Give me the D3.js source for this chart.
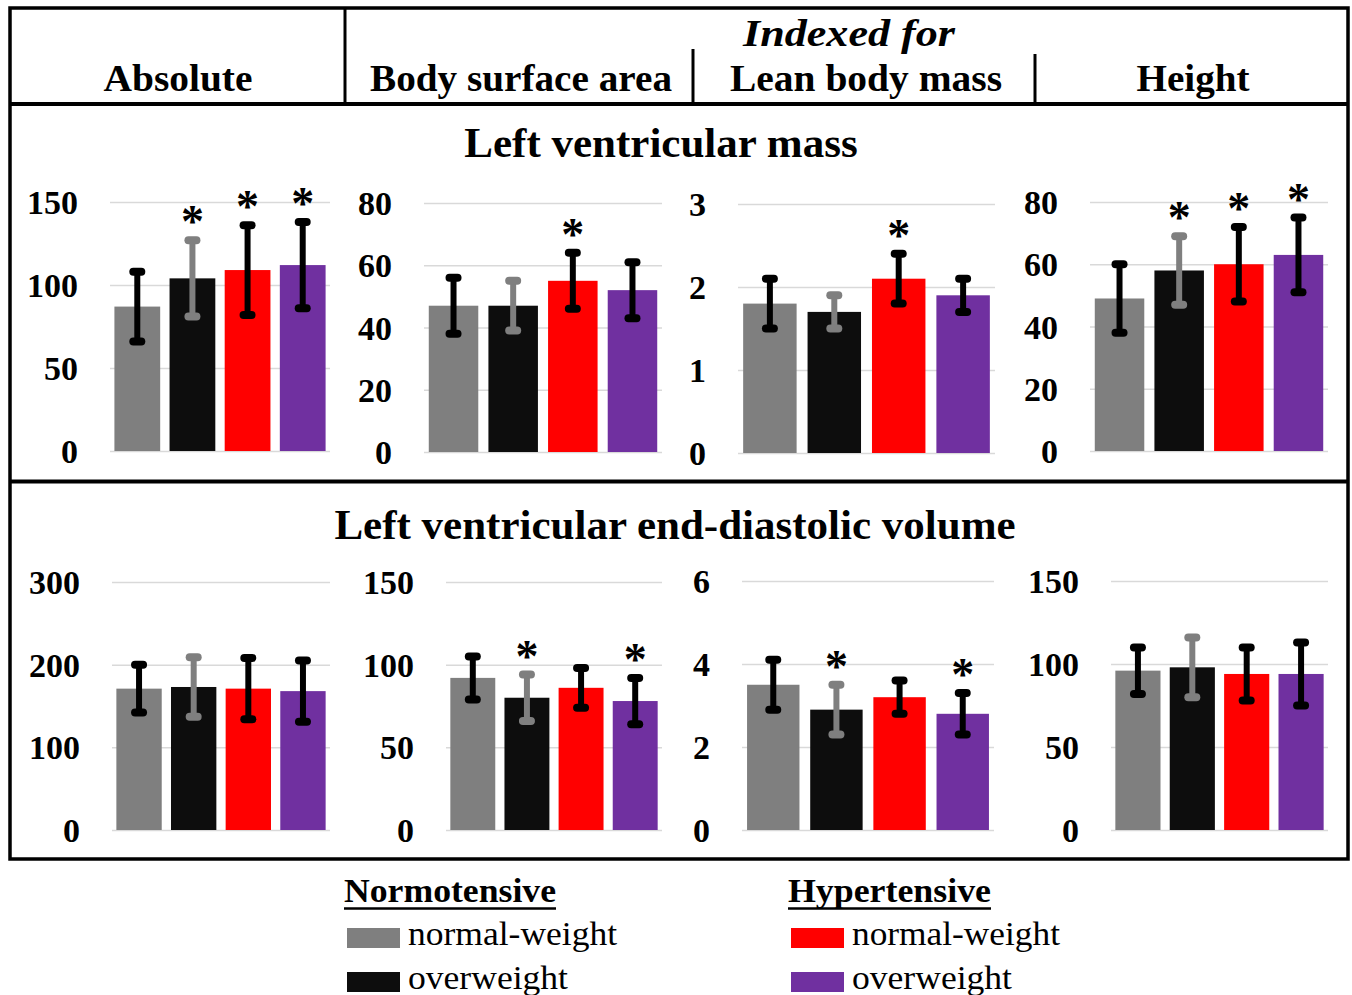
<!DOCTYPE html>
<html>
<head>
<meta charset="utf-8">
<script src="https://cdn.jsdelivr.net/npm/d3@7"></script>
<style>
  html, body { margin: 0; padding: 0; background: #fff; }
  svg { display: block; font-family: "Liberation Serif", "Times New Roman", serif; }
</style>
</head>
<body>
<svg id="chart" width="1352" height="995"></svg>
<script>
// ---------------- DATA ----------------
const groups = ["Normotensive normal-weight", "Normotensive overweight", "Hypertensive normal-weight", "Hypertensive overweight"];
const groupColors = ["#7f7f7f", "#0d0d0d", "#ff0000", "#7030a0"];
const errorColors = ["#000000", "#7f7f7f", "#000000", "#000000"];

const indexLabels = ["Absolute", "Body surface area", "Lean body mass", "Height"];
const rowTitles = ["Left ventricular mass", "Left ventricular end-diastolic volume"];

// Left ventricular mass
const lvmAbsMean = [87, 104, 109, 112];
const lvmAbsSD   = [21, 23, 27, 26];
const lvmAbsSig  = [false, true, true, true];
const lvmAbsTicks = [0, 50, 100, 150];

const lvmBsaMean = [47, 47, 55, 52];
const lvmBsaSD   = [9, 8, 9, 9];
const lvmBsaSig  = [false, false, true, false];
const lvmBsaTicks = [0, 20, 40, 60, 80];

const lvmLbmMean = [1.8, 1.7, 2.1, 1.9];
const lvmLbmSD   = [0.3, 0.2, 0.3, 0.2];
const lvmLbmSig  = [false, false, true, false];
const lvmLbmTicks = [0, 1, 2, 3];

const lvmHtMean = [49, 58, 60, 63];
const lvmHtSD   = [11, 11, 12, 12];
const lvmHtSig  = [false, true, true, true];
const lvmHtTicks = [0, 20, 40, 60, 80];

// Left ventricular end-diastolic volume
const edvAbsMean = [171, 173, 171, 168];
const edvAbsSD   = [29, 36, 37, 37];
const edvAbsSig  = [false, false, false, false];
const edvAbsTicks = [0, 100, 200, 300];

const edvBsaMean = [92, 80, 86, 78];
const edvBsaSD   = [13, 14, 12, 14];
const edvBsaSig  = [false, true, false, true];
const edvBsaTicks = [0, 50, 100, 150];

const edvLbmMean = [3.5, 2.9, 3.2, 2.8];
const edvLbmSD   = [0.6, 0.6, 0.4, 0.5];
const edvLbmSig  = [false, true, false, true];
const edvLbmTicks = [0, 2, 4, 6];

const edvHtMean = [96, 98, 94, 94];
const edvHtSD   = [14, 18, 16, 19];
const edvHtSig  = [false, false, false, false];
const edvHtTicks = [0, 50, 100, 150];

const legendHeaders = ["Normotensive", "Hypertensive"];
const legendItems = ["normal-weight", "overweight", "normal-weight", "overweight"];

// ---------------- LAYOUT ----------------
const panels = [
  { mean: lvmAbsMean, sd: lvmAbsSD, sig: lvmAbsSig, ticks: lvmAbsTicks, x: [110, 330], y: [451, 202] },
  { mean: lvmBsaMean, sd: lvmBsaSD, sig: lvmBsaSig, ticks: lvmBsaTicks, x: [424, 662], y: [452, 203] },
  { mean: lvmLbmMean, sd: lvmLbmSD, sig: lvmLbmSig, ticks: lvmLbmTicks, x: [738, 995], y: [453, 204] },
  { mean: lvmHtMean,  sd: lvmHtSD,  sig: lvmHtSig,  ticks: lvmHtTicks,  x: [1090, 1328], y: [451, 202] },
  { mean: edvAbsMean, sd: edvAbsSD, sig: edvAbsSig, ticks: edvAbsTicks, x: [112, 330], y: [830, 582] },
  { mean: edvBsaMean, sd: edvBsaSD, sig: edvBsaSig, ticks: edvBsaTicks, x: [446, 662], y: [830, 582] },
  { mean: edvLbmMean, sd: edvLbmSD, sig: edvLbmSig, ticks: edvLbmTicks, x: [742, 994], y: [830, 581] },
  { mean: edvHtMean,  sd: edvHtSD,  sig: edvHtSig,  ticks: edvHtTicks,  x: [1111, 1328], y: [830, 581] }
];

const svg = d3.select("#chart");

// ---------------- PANELS ----------------
panels.forEach(p => {
  const ticks = p.ticks;
  const y = d3.scaleLinear().domain([0, ticks[ticks.length - 1]]).range(p.y);
  const x = d3.scaleBand().domain(groups).range(p.x).paddingInner(0.17).paddingOuter(0.08);
  const w = p.x[1] - p.x[0];
  const g = svg.append("g");

  const axis = d3.axisLeft(y).tickValues(ticks).tickSize(-w).tickPadding(32)
    .tickFormat(d3.format("d"));
  const ag = g.append("g").attr("transform", `translate(${p.x[0]},0)`).call(axis);
  ag.select(".domain").remove();
  ag.selectAll(".tick line").attr("stroke", "#d9d9d9").attr("stroke-width", 1.5);
  ag.selectAll(".tick text").attr("fill", "#000").attr("font-size", 34)
    .attr("font-weight", "bold").attr("font-family", "Liberation Serif, serif")
    .attr("dy", "0.34em");

  const data = groups.map((k, i) => ({ k, i, m: p.mean[i], s: p.sd[i], sig: p.sig[i] }));

  g.selectAll("rect.bar").data(data).enter().append("rect")
    .attr("class", "bar")
    .attr("x", d => x(d.k))
    .attr("width", x.bandwidth())
    .attr("y", d => y(d.m))
    .attr("height", d => y(0) - y(d.m))
    .attr("fill", d => groupColors[d.i]);

  const eb = g.selectAll("g.err").data(data).enter().append("g").attr("class", "err")
    .attr("stroke", d => errorColors[d.i]);
  eb.append("line")
    .attr("x1", d => x(d.k) + x.bandwidth() / 2).attr("x2", d => x(d.k) + x.bandwidth() / 2)
    .attr("y1", d => y(d.m - d.s)).attr("y2", d => y(d.m + d.s))
    .attr("stroke-width", 6);
  [d => d.m + d.s, d => d.m - d.s].forEach(fv => {
    eb.append("line")
      .attr("x1", d => x(d.k) + x.bandwidth() / 2 - 4).attr("x2", d => x(d.k) + x.bandwidth() / 2 + 4)
      .attr("y1", d => y(fv(d))).attr("y2", d => y(fv(d)))
      .attr("stroke-width", 8).attr("stroke-linecap", "round");
  });

  g.selectAll("text.sig").data(data.filter(d => d.sig)).enter().append("text")
    .attr("class", "sig")
    .attr("x", d => x(d.k) + x.bandwidth() / 2)
    .attr("y", d => y(d.m + d.s) - 3)
    .attr("text-anchor", "middle")
    .attr("font-size", 46).attr("font-weight", "bold")
    .text("*");
});

// ---------------- FRAME & HEADERS ----------------
const frame = svg.append("g").attr("stroke", "#000").attr("fill", "none");
frame.append("rect").attr("x", 10).attr("y", 8).attr("width", 1338).attr("height", 851).attr("stroke-width", 3.5);
frame.append("line").attr("x1", 10).attr("x2", 1348).attr("y1", 104).attr("y2", 104).attr("stroke-width", 4);
frame.append("line").attr("x1", 10).attr("x2", 1348).attr("y1", 481.5).attr("y2", 481.5).attr("stroke-width", 4);
frame.append("line").attr("x1", 345).attr("x2", 345).attr("y1", 8).attr("y2", 104).attr("stroke-width", 3);
frame.append("line").attr("x1", 693).attr("x2", 693).attr("y1", 49).attr("y2", 104).attr("stroke-width", 3);
frame.append("line").attr("x1", 1035).attr("x2", 1035).attr("y1", 54).attr("y2", 104).attr("stroke-width", 3);

const headerPos = [
  { cx: 178, len: 149 },
  { cx: 521, len: 302 },
  { cx: 866, len: 272 },
  { cx: 1193, len: 113 }
];
svg.append("g").selectAll("text").data(indexLabels).enter().append("text")
  .attr("x", (d, i) => headerPos[i].cx).attr("y", 91)
  .attr("text-anchor", "middle").attr("font-size", 37).attr("font-weight", "bold")
  .attr("textLength", (d, i) => headerPos[i].len).attr("lengthAdjust", "spacingAndGlyphs")
  .text(d => d);

svg.append("text").attr("x", 849).attr("y", 46).attr("text-anchor", "middle")
  .attr("font-size", 38).attr("font-weight", "bold").attr("font-style", "italic")
  .attr("textLength", 212).attr("lengthAdjust", "spacingAndGlyphs")
  .text("Indexed for");

const titlePos = [{ cx: 661, y: 157 }, { cx: 675, y: 539 }];
svg.append("g").selectAll("text").data(rowTitles).enter().append("text")
  .attr("x", (d, i) => titlePos[i].cx).attr("y", (d, i) => titlePos[i].y)
  .attr("text-anchor", "middle").attr("font-size", 43).attr("font-weight", "bold")
  .text(d => d);

// ---------------- LEGEND ----------------
const legendCols = [344, 788];
const headerLens = [212, 203];
const lg = svg.append("g");
legendHeaders.forEach((h, c) => {
  lg.append("text").attr("x", legendCols[c]).attr("y", 902)
    .attr("font-size", 33).attr("font-weight", "bold")
    .attr("textLength", headerLens[c]).attr("lengthAdjust", "spacingAndGlyphs")
    .text(h);
  lg.append("line").attr("x1", legendCols[c]).attr("x2", legendCols[c] + headerLens[c])
    .attr("y1", 908.5).attr("y2", 908.5).attr("stroke", "#000").attr("stroke-width", 2.5);
});
const itemLens = [209, 160, 208, 160];
legendItems.forEach((t, i) => {
  const c = Math.floor(i / 2), r = i % 2;
  const x0 = legendCols[c] + 3;
  const yTop = 928 + r * 44;
  lg.append("rect").attr("x", x0).attr("y", yTop).attr("width", 53).attr("height", 20)
    .attr("fill", groupColors[i]);
  lg.append("text").attr("x", x0 + 61).attr("y", yTop + 17)
    .attr("font-size", 33)
    .attr("textLength", itemLens[i]).attr("lengthAdjust", "spacingAndGlyphs")
    .text(t);
});
</script>
</body>
</html>
